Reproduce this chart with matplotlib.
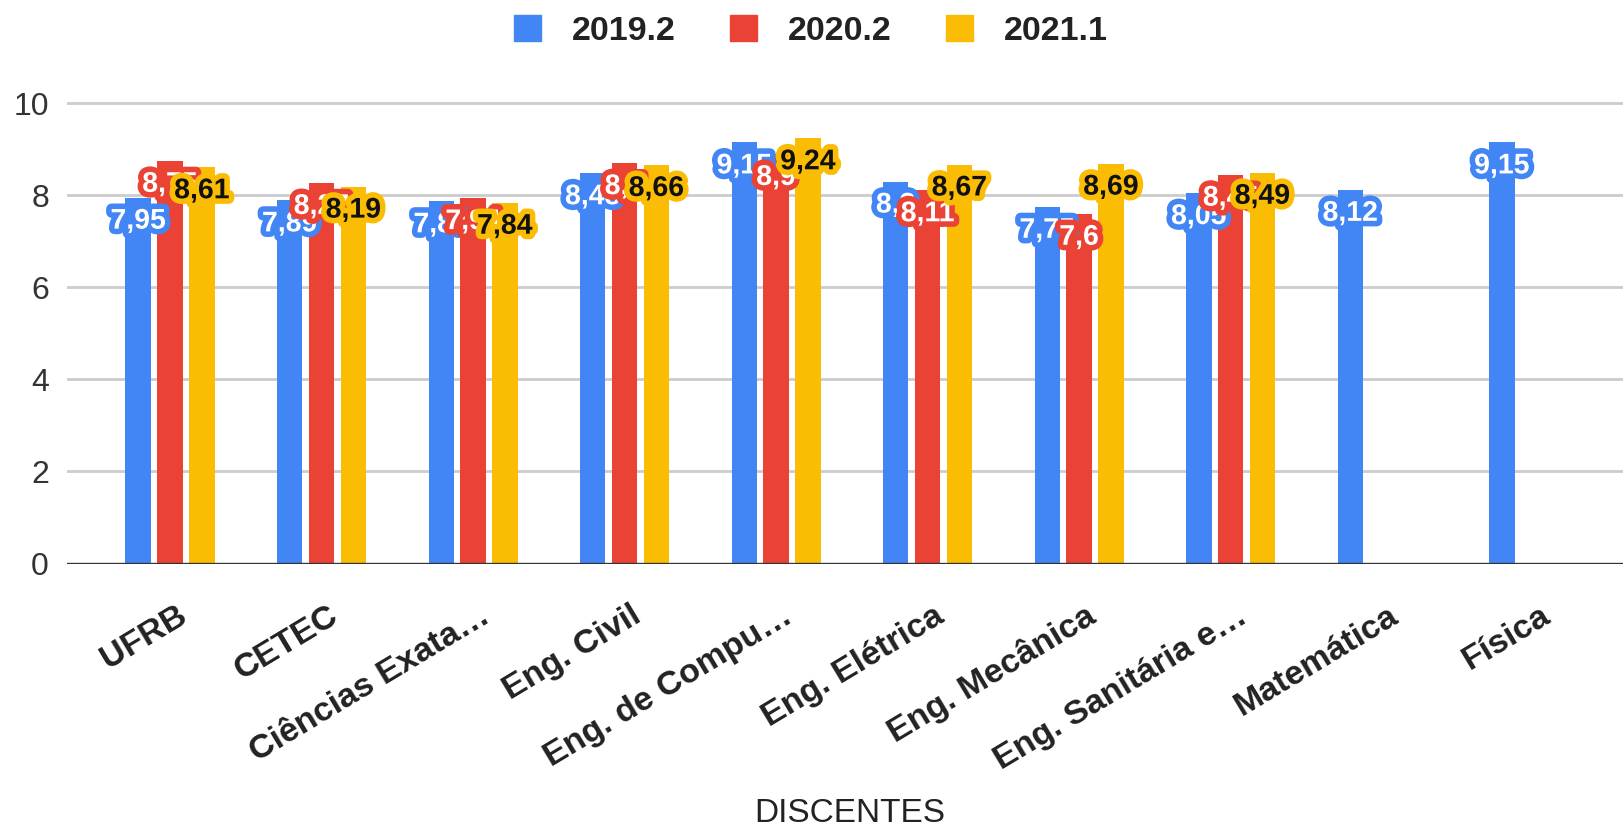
import matplotlib
matplotlib.use('Agg')
import matplotlib.pyplot as plt
import matplotlib.patheffects as pe
import matplotlib.transforms as mtransforms
from matplotlib.patches import Patch
import numpy as np

plt.rcParams['font.family'] = ['Liberation Sans', 'DejaVu Sans']

# dados
cursos = ['UFRB', 'CETEC', 'Ciências Exata…', 'Eng. Civil', 'Eng. de Compu…',
          'Eng. Elétrica', 'Eng. Mecânica', 'Eng. Sanitária e…', 'Matemática', 'Física']
series = ['2019.2', '2020.2', '2021.1']
v2019_2 = [7.95, 7.89, 7.87, 8.48, 9.15, 8.3, 7.75, 8.05, 8.12, 9.15]
v2020_2 = [8.75, 8.27, 7.94, 8.7, 8.9, 8.11, 7.6, 8.45, np.nan, np.nan]
v2021_1 = [8.61, 8.19, 7.84, 8.66, 9.24, 8.67, 8.69, 8.49, np.nan, np.nan]

cores = ['#4285F4', '#EA4335', '#FBBC04']
cor_texto = ['white', 'white', '#111111']

W, H = 1623, 831
fig = plt.figure(figsize=(W / 100, H / 100), dpi=100)
ax = fig.add_axes([67 / W, 1 - 563.5 / H, (W - 67) / W, (563.5 - 89.5) / H])

x = np.arange(len(cursos))
largura = 0.168
passo = 0.21
valores = [v2019_2, v2020_2, v2021_1]

for k, vals in enumerate(valores):
    pos = x + (k - 1) * passo
    ax.bar(pos, vals, width=largura, color=cores[k], zorder=2)

# rotulos de dados
lab_tr = mtransforms.offset_copy(ax.transData, fig=fig, x=0, y=-24, units='dots')
for k, vals in enumerate(valores):
    pos = x + (k - 1) * passo
    for p, v in zip(pos, vals):
        if np.isnan(v):
            continue
        txt = ('%g' % v).replace('.', ',')
        ax.text(p, v, txt, transform=lab_tr, ha='center', va='center',
                fontsize=20.5, fontweight='bold', color=cor_texto[k], zorder=5 + k,
                path_effects=[pe.withStroke(linewidth=8, foreground=cores[k])])

ax.set_xlim(-0.68, 9.59)
ax.set_ylim(0, 10.3)
ax.set_yticks([0, 2, 4, 6, 8, 10])
ax.tick_params(axis='y', length=0, pad=13, labelsize=23, labelcolor='#333333')
ax.set_xticks([])
ax.yaxis.grid(True, color='#cccccc', linewidth=2, zorder=0)
ax.set_axisbelow(True)
for s in ax.spines.values():
    s.set_visible(False)
ax.axhline(0, color='#333333', linewidth=2.4, zorder=4)

# rotulos do eixo x inclinados
tick_tr = mtransforms.offset_copy(ax.transData, fig=fig, x=14, y=-50, units='dots')
for i, nome in enumerate(cursos):
    ax.text(i, 0, nome, transform=tick_tr, rotation=31, rotation_mode='anchor',
            ha='right', va='center', fontsize=24.5, fontweight='bold', color='#222222')

fig.text(850 / W, 1 - 814 / H, 'DISCENTES', ha='center', va='center',
         fontsize=24, color='#222222')

handles = [Patch(facecolor=c, edgecolor=c) for c in cores]
fig.legend(handles, series, loc='center', bbox_to_anchor=(811 / W, 1 - 31 / H),
           ncol=3, frameon=False, handlelength=0.8, handleheight=0.8,
           handletextpad=0.9, columnspacing=1.6,
           prop={'size': 24.5, 'weight': 'bold'})
for t in fig.legends[0].get_texts():
    t.set_color('#222222')

fig.savefig('out.png', dpi=100)
